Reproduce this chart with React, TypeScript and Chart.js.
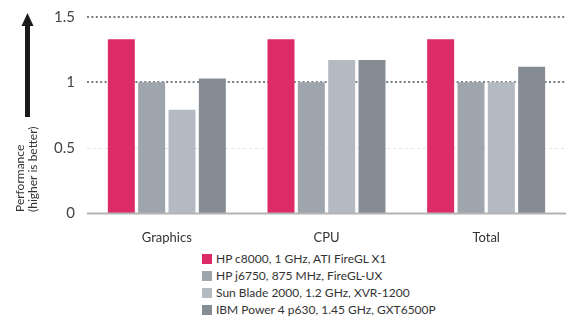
import React, { useEffect, useRef } from "react";
import { Chart, registerables } from "chart.js";

Chart.register(...registerables);

const categories = ["Graphics", "CPU", "Total"];
const seriesNames = [
  "HP c8000, 1 GHz, ATI FireGL X1",
  "HP j6750, 875 MHz, FireGL-UX",
  "Sun Blade 2000, 1.2 GHz, XVR-1200",
  "IBM Power 4 p630, 1.45 GHz, GXT6500P",
];
const hpC8000 = [1.33, 1.33, 1.33];
const hpJ6750 = [1.0, 1.0, 1.0];
const sunBlade = [0.79, 1.17, 1.0];
const ibmPower = [1.03, 1.17, 1.12];
const seriesColors = ["#dc2b66", "#9ea5ac", "#b4bac2", "#868c94"];
const yTicks = [0, 0.5, 1, 1.5];
const yTitle = ["Performance", "(higher is better)"];

const FONT = "Lato, 'Open Sans', sans-serif";

const gridPlugin = {
  id: "customGrid",
  beforeDatasetsDraw(chart: any) {
    const { ctx, chartArea, scales } = chart;
    const y = scales.y;
    ctx.save();
    yTicks.forEach((v) => {
      if (v === 0) return;
      const py = Math.round(y.getPixelForValue(v));
      ctx.beginPath();
      if (v === 0.5) {
        ctx.strokeStyle = "#e2e4e6";
        ctx.lineWidth = 1;
        ctx.setLineDash([3, 3]);
        ctx.moveTo(chartArea.left, py + 0.5);
        ctx.lineTo(chartArea.right, py + 0.5);
      } else {
        ctx.strokeStyle = "#787d85";
        ctx.lineWidth = 2;
        ctx.setLineDash([2, 2.4]);
        ctx.moveTo(chartArea.left, py);
        ctx.lineTo(chartArea.right, py);
      }
      ctx.stroke();
    });
    ctx.restore();
  },
  afterDatasetsDraw(chart: any) {
    const { ctx, chartArea, scales } = chart;
    const y0 = scales.y.getPixelForValue(0);
    ctx.save();
    ctx.strokeStyle = "#b3b3b3";
    ctx.lineWidth = 2;
    ctx.beginPath();
    ctx.moveTo(chartArea.left, y0 + 0.5);
    ctx.lineTo(chartArea.right, y0 + 0.5);
    ctx.stroke();

    // Y title, bottom-aligned, rotated
    ctx.fillStyle = "#333";
    ctx.font = `12px ${FONT}`;
    ctx.textAlign = "left";
    ctx.textBaseline = "middle";
    const bottom = chartArea.bottom - 1;
    [20, 33].forEach((x, i) => {
      ctx.save();
      ctx.translate(x, bottom);
      ctx.rotate(-Math.PI / 2);
      ctx.fillText(yTitle[i], 0, 0);
      ctx.restore();
    });

    // arrow
    const ax = 27.5;
    const tip = 13;
    const end = 117;
    ctx.fillStyle = "#1a1a1a";
    ctx.fillRect(ax - 2.5, tip + 11, 5, end - tip - 11);
    ctx.beginPath();
    ctx.moveTo(ax, tip);
    ctx.lineTo(ax + 6, tip + 13);
    ctx.lineTo(ax - 6, tip + 13);
    ctx.closePath();
    ctx.fill();
    ctx.restore();
  },
};

function App() {
  const ref = useRef<HTMLCanvasElement | null>(null);
  useEffect(() => {
    document.body.style.margin = "0";
    const data = [hpC8000, hpJ6750, sunBlade, ibmPower];
    const chart = new Chart(ref.current as HTMLCanvasElement, {
      type: "bar",
      data: {
        labels: categories,
        datasets: seriesNames.map((name, i) => ({
          label: name,
          data: data[i],
          backgroundColor: seriesColors[i],
          borderWidth: 0,
          barPercentage: 0.89,
          categoryPercentage: 0.76,
        })),
      },
      options: {
        animation: false,
        responsive: false,
        maintainAspectRatio: false,
        layout: { padding: { top: 17, right: 8, left: 0, bottom: 0 } },
        plugins: { legend: { display: false }, tooltip: { enabled: false } },
        scales: {
          x: {
            grid: { display: false, drawTicks: false },
            border: { display: false },
            ticks: {
              color: "#333",
              font: { family: FONT, size: 13 },
              padding: 17,
            },
            afterFit: (s: any) => {
              s.height = 37;
              s.paddingLeft = 0;
              s.paddingRight = 0;
            },
          },
          y: {
            min: 0,
            max: 1.5,
            afterBuildTicks: (s: any) => {
              s.ticks = yTicks.map((v) => ({ value: v }));
            },
            grid: { display: false, drawTicks: false },
            border: { display: false },
            ticks: {
              color: "#444",
              font: { family: FONT, size: 15 },
              padding: 12,
              callback: (v: any) => String(v),
            },
            afterFit: (s: any) => {
              s.width = 87;
              s.paddingTop = 0;
              s.paddingBottom = 0;
            },
          },
        },
      },
      plugins: [gridPlugin],
    });
    return () => chart.destroy();
  }, []);

  return (
    <div style={{ position: "relative", width: 574, height: 318, background: "#fff" }}>
      <canvas ref={ref} width={574} height={250} style={{ display: "block" }} />
      <div
        style={{
          position: "absolute",
          left: 202,
          top: 250,
          fontFamily: FONT,
          fontSize: 12,
          color: "#333",
        }}
      >
        {seriesNames.map((name, i) => (
          <div key={name} style={{ display: "flex", alignItems: "center", height: 17 }}>
            <span
              style={{
                display: "inline-block",
                width: 10,
                height: 10,
                background: seriesColors[i],
                marginRight: 4,
              }}
            />
            <span>{name}</span>
          </div>
        ))}
      </div>
    </div>
  );
}

export default App;
